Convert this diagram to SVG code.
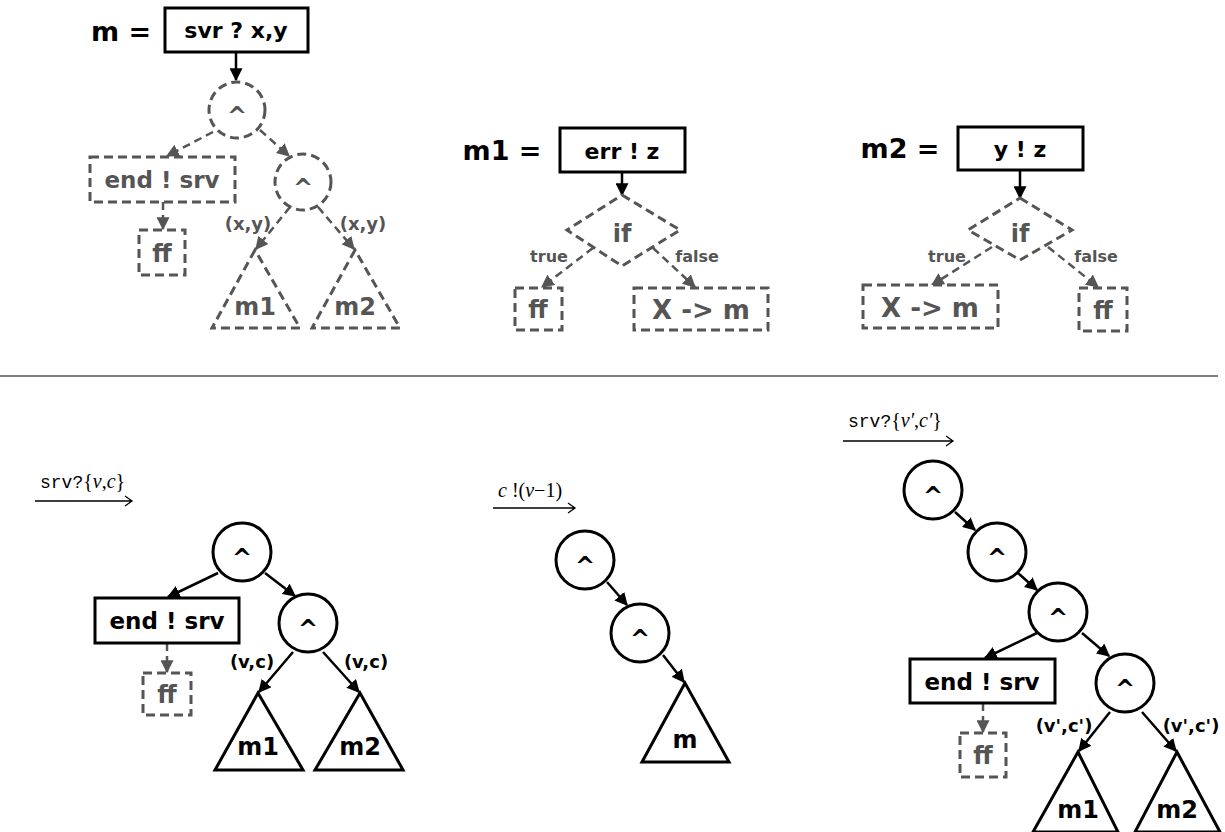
<svg xmlns="http://www.w3.org/2000/svg" width="1225" height="832" viewBox="0 0 1225 832">
<defs>
<style>
.t{font-family:"DejaVu Sans",Verdana,sans-serif;font-weight:bold;text-anchor:middle}
.blk{fill:#000}
.gry{fill:#555}
.sb{fill:#fff;stroke:#000;stroke-width:3}
.db{fill:#fff;stroke:#555;stroke-width:3;stroke-dasharray:9,5}
.sl{stroke:#000;stroke-width:2.5;fill:none;marker-end:url(#ab)}
.dl{stroke:#555;stroke-width:2.5;fill:none;stroke-dasharray:8,5;marker-end:url(#ag)}
.lx{font-family:"Liberation Serif","Times New Roman",serif;font-size:20px}
.tt{font-family:"Liberation Mono","Courier New",monospace;font-size:18px}
.ar{stroke:#000;stroke-width:1.3;fill:none}
</style>
<marker id="ab" viewBox="0 0 10 10" refX="9" refY="5" markerWidth="13" markerHeight="13" markerUnits="userSpaceOnUse" orient="auto"><path d="M0,0 L10,5 L0,10 z" fill="#000"/></marker>
<marker id="ag" viewBox="0 0 10 10" refX="9" refY="5" markerWidth="13" markerHeight="13" markerUnits="userSpaceOnUse" orient="auto"><path d="M0,0 L10,5 L0,10 z" fill="#555"/></marker>
</defs>
<rect width="1225" height="832" fill="#fff"/>

<g id="connectors">
<line class="sl" x1="236" y1="52" x2="236" y2="80"/>
<line class="dl" x1="213" y1="132" x2="167" y2="156"/>
<line class="dl" x1="260" y1="130" x2="289" y2="156"/>
<line class="dl" x1="163" y1="202" x2="163" y2="229"/>
<line class="dl" x1="290" y1="207" x2="256" y2="249"/>
<line class="dl" x1="318" y1="207" x2="354" y2="249"/>
<line class="sl" x1="622" y1="172" x2="622" y2="195"/>
<line class="dl" x1="593" y1="248" x2="542" y2="287"/>
<line class="dl" x1="653" y1="248" x2="695" y2="287"/>
<line class="sl" x1="1020" y1="170" x2="1020" y2="198"/>
<line class="dl" x1="992" y1="247" x2="932" y2="285"/>
<line class="dl" x1="1048" y1="247" x2="1098" y2="287"/>
<line class="sl" x1="218" y1="573" x2="168" y2="597"/>
<line class="sl" x1="265" y1="573" x2="295" y2="596"/>
<line class="dl" x1="167" y1="643" x2="167" y2="672"/>
<line class="sl" x1="293" y1="652" x2="259" y2="692"/>
<line class="sl" x1="323" y1="652" x2="359" y2="692"/>
<line class="sl" x1="607" y1="582" x2="627" y2="605"/>
<line class="sl" x1="663" y1="655" x2="684" y2="682"/>
<line class="sl" x1="955" y1="512" x2="975" y2="530"/>
<line class="sl" x1="1018" y1="573" x2="1037" y2="590"/>
<line class="sl" x1="1037" y1="633" x2="985" y2="658"/>
<line class="sl" x1="1082" y1="633" x2="1109" y2="656"/>
<line class="dl" x1="983" y1="703" x2="983" y2="732"/>
<line class="sl" x1="1110" y1="712" x2="1079" y2="751"/>
<line class="sl" x1="1142" y1="712" x2="1176" y2="751"/>
</g>

<line x1="0" y1="376" x2="1218" y2="376" stroke="#000" stroke-width="1"/>

<g id="m-label"><text class="t blk" x="121" y="41" font-size="27">m =</text></g>
<g id="m-recv"><rect class="sb" x="165" y="8" width="143" height="44"/><text class="t blk" x="236" y="38" font-size="22">svr ? x,y</text></g>
<g id="m-and1"><circle class="db" cx="237" cy="110" r="28"/><text class="t gry" x="237" y="124" font-size="24">^</text></g>
<g id="m-end"><rect class="db" x="90" y="157" width="145" height="45"/><text class="t gry" x="162" y="188" font-size="23">end ! srv</text></g>
<g id="m-and2"><circle class="db" cx="303" cy="182" r="28"/><text class="t gry" x="303" y="196" font-size="24">^</text></g>
<g id="m-ff"><rect class="db" x="139" y="230" width="46" height="45"/><text class="t gry" x="162" y="262" font-size="24">ff</text></g>
<g id="m-lbl1"><text class="t gry" x="248" y="230" font-size="18">(x,y)</text></g>
<g id="m-lbl2"><text class="t gry" x="363" y="230" font-size="18">(x,y)</text></g>
<g id="m-m1"><polygon class="db" points="255,250 212,328 300,328"/><text class="t gry" x="255" y="315" font-size="24">m1</text></g>
<g id="m-m2"><polygon class="db" points="355,250 312,328 400,328"/><text class="t gry" x="355" y="315" font-size="24">m2</text></g>

<g id="m1-label"><text class="t blk" x="502" y="160" font-size="27">m1 =</text></g>
<g id="m1-send"><rect class="sb" x="560" y="128" width="125" height="44"/><text class="t blk" x="622" y="159" font-size="22">err ! z</text></g>
<g id="m1-if"><polygon class="db" points="622,195 680,230 622,266 567,230"/><text class="t gry" x="622" y="242" font-size="24">if</text></g>
<g id="m1-true"><text class="t gry" x="549" y="262" font-size="16">true</text></g>
<g id="m1-false"><text class="t gry" x="697" y="262" font-size="16">false</text></g>
<g id="m1-ff"><rect class="db" x="515" y="288" width="47" height="42"/><text class="t gry" x="538" y="318" font-size="24">ff</text></g>
<g id="m1-rec"><rect class="db" x="634" y="288" width="134" height="42"/><text class="t gry" x="701" y="319" font-size="26">X -&gt; m</text></g>

<g id="m2-label"><text class="t blk" x="900" y="158" font-size="27">m2 =</text></g>
<g id="m2-send"><rect class="sb" x="958" y="127" width="125" height="43"/><text class="t blk" x="1020" y="157" font-size="22">y ! z</text></g>
<g id="m2-if"><polygon class="db" points="1020,198 1072,230 1020,260 968,230"/><text class="t gry" x="1020" y="242" font-size="24">if</text></g>
<g id="m2-true"><text class="t gry" x="947" y="262" font-size="16">true</text></g>
<g id="m2-false"><text class="t gry" x="1096" y="262" font-size="16">false</text></g>
<g id="m2-rec"><rect class="db" x="863" y="285" width="135" height="43"/><text class="t gry" x="930" y="317" font-size="26">X -&gt; m</text></g>
<g id="m2-ff"><rect class="db" x="1079" y="288" width="48" height="43"/><text class="t gry" x="1103" y="319" font-size="24">ff</text></g>

<g id="bl-trans"><text class="lx" x="40" y="488"><tspan class="tt">srv?</tspan>{<tspan font-style="italic">v</tspan>,<tspan font-style="italic">c</tspan>}</text><path class="ar" d="M35,501 H132 M125,496 L132,501 L125,506"/></g>
<g id="bl-and1"><circle class="sb" cx="242" cy="552" r="29"/><text class="t blk" x="242" y="566" font-size="24">^</text></g>
<g id="bl-end"><rect class="sb" x="95" y="598" width="144" height="45"/><text class="t blk" x="167" y="629" font-size="23">end ! srv</text></g>
<g id="bl-and2"><circle class="sb" cx="308" cy="623" r="29"/><text class="t blk" x="308" y="637" font-size="24">^</text></g>
<g id="bl-ff"><rect class="db" x="143" y="673" width="48" height="42"/><text class="t gry" x="167" y="703" font-size="24">ff</text></g>
<g id="bl-lbl1"><text class="t blk" x="252" y="668" font-size="18">(v,c)</text></g>
<g id="bl-lbl2"><text class="t blk" x="366" y="668" font-size="18">(v,c)</text></g>
<g id="bl-m1"><polygon class="sb" points="258,693 215,770 303,770"/><text class="t blk" x="258" y="755" font-size="24">m1</text></g>
<g id="bl-m2"><polygon class="sb" points="360,693 315,770 403,770"/><text class="t blk" x="360" y="755" font-size="24">m2</text></g>

<g id="bm-trans"><text class="lx" x="498" y="497" font-size="21"><tspan font-style="italic">c</tspan> !(<tspan font-style="italic">v</tspan>−1)</text><path class="ar" d="M493,508 H575 M568,503 L575,508 L568,513"/></g>
<g id="bm-and1"><circle class="sb" cx="585" cy="560" r="29"/><text class="t blk" x="585" y="574" font-size="24">^</text></g>
<g id="bm-and2"><circle class="sb" cx="640" cy="633" r="29"/><text class="t blk" x="640" y="647" font-size="24">^</text></g>
<g id="bm-m"><polygon class="sb" points="685,683 642,762 729,762"/><text class="t blk" x="685" y="748" font-size="24">m</text></g>

<g id="br-trans"><text class="lx" x="848" y="427"><tspan class="tt">srv?</tspan>{<tspan font-style="italic">v′</tspan>,<tspan font-style="italic">c′</tspan>}</text><path class="ar" d="M843,441 H953 M946,436 L953,441 L946,446"/></g>
<g id="br-and1"><circle class="sb" cx="933" cy="490" r="29"/><text class="t blk" x="933" y="504" font-size="24">^</text></g>
<g id="br-and2"><circle class="sb" cx="997" cy="552" r="29"/><text class="t blk" x="997" y="566" font-size="24">^</text></g>
<g id="br-and3"><circle class="sb" cx="1058" cy="612" r="29"/><text class="t blk" x="1058" y="626" font-size="24">^</text></g>
<g id="br-end"><rect class="sb" x="910" y="659" width="145" height="44"/><text class="t blk" x="982" y="690" font-size="23">end ! srv</text></g>
<g id="br-and4"><circle class="sb" cx="1125" cy="683" r="29"/><text class="t blk" x="1125" y="697" font-size="24">^</text></g>
<g id="br-ff"><rect class="db" x="960" y="733" width="46" height="44"/><text class="t gry" x="983" y="764" font-size="24">ff</text></g>
<g id="br-lbl1"><text class="t blk" x="1064" y="732" font-size="18">(v',c')</text></g>
<g id="br-lbl2"><text class="t blk" x="1191" y="732" font-size="18">(v',c')</text></g>
<g id="br-m1"><polygon class="sb" points="1078,752 1033,832 1118,832"/><text class="t blk" x="1078" y="818" font-size="24">m1</text></g>
<g id="br-m2"><polygon class="sb" points="1177,752 1135,832 1220,832"/><text class="t blk" x="1177" y="818" font-size="24">m2</text></g>
</svg>
